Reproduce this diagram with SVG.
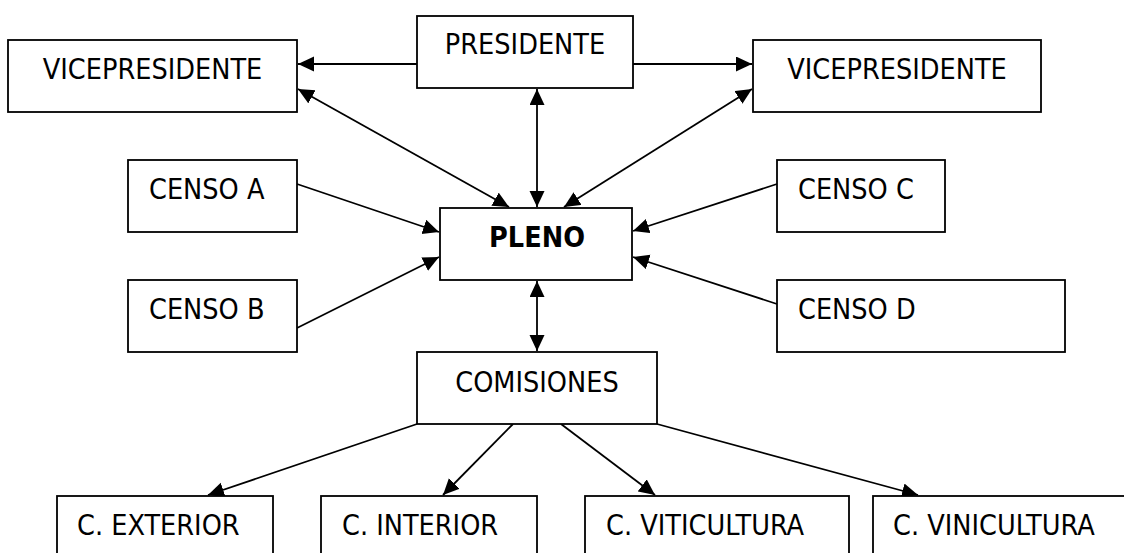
<svg xmlns="http://www.w3.org/2000/svg" width="1124" height="553" viewBox="0 0 1124 553">
<style>
.box{fill:#fff;stroke:#000;stroke-width:1.8}
.t{font-family:"DejaVu Sans Condensed","DejaVu Sans",sans-serif;font-stretch:condensed;font-size:28.5px;fill:#000}
.c{text-anchor:middle}
.b{font-weight:bold}
.ln{stroke:#000;stroke-width:1.8;fill:none}
</style>
<defs>
<marker id="ah" markerUnits="userSpaceOnUse" markerWidth="18" markerHeight="16" refX="16" refY="7.5" orient="auto-start-reverse">
<path d="M0,0 L16,7.5 L0,15 z" fill="#000"/>
</marker>
</defs>
<rect width="1124" height="553" fill="#fff"/>
<g id="connectors">
<line class="ln" x1="417" y1="64" x2="298" y2="64" marker-end="url(#ah)"/>
<line class="ln" x1="633" y1="64" x2="752" y2="64" marker-end="url(#ah)"/>
<line class="ln" x1="537" y1="89" x2="537" y2="207" marker-start="url(#ah)" marker-end="url(#ah)"/>
<line class="ln" x1="298" y1="89" x2="509" y2="207" marker-start="url(#ah)" marker-end="url(#ah)"/>
<line class="ln" x1="752" y1="89" x2="564" y2="207" marker-start="url(#ah)" marker-end="url(#ah)"/>
<line class="ln" x1="297" y1="184" x2="439" y2="232" marker-end="url(#ah)"/>
<line class="ln" x1="297" y1="328" x2="439" y2="257" marker-end="url(#ah)"/>
<line class="ln" x1="777" y1="184" x2="633" y2="231" marker-end="url(#ah)"/>
<line class="ln" x1="777" y1="304" x2="633" y2="257" marker-end="url(#ah)"/>
<line class="ln" x1="537" y1="281" x2="537" y2="351" marker-start="url(#ah)" marker-end="url(#ah)"/>
<line class="ln" x1="417" y1="424" x2="208" y2="495" marker-end="url(#ah)"/>
<line class="ln" x1="513" y1="424" x2="443" y2="495" marker-end="url(#ah)"/>
<line class="ln" x1="561" y1="424" x2="655" y2="495" marker-end="url(#ah)"/>
<line class="ln" x1="657" y1="424" x2="918" y2="495" marker-end="url(#ah)"/>
</g>
<g id="presidente"><rect class="box" x="417" y="16" width="216" height="72"/><text class="t c" x="525" y="54">PRESIDENTE</text></g>
<g id="vicepresidente-izq"><rect class="box" x="8" y="40" width="289" height="72"/><text class="t c" x="152.5" y="79">VICEPRESIDENTE</text></g>
<g id="vicepresidente-der"><rect class="box" x="753" y="40" width="288" height="72"/><text class="t c" x="897" y="79">VICEPRESIDENTE</text></g>
<g id="censo-a"><rect class="box" x="128" y="160" width="169" height="72"/><text class="t" x="149" y="199">CENSO A</text></g>
<g id="censo-b"><rect class="box" x="128" y="280" width="169" height="72"/><text class="t" x="149" y="319">CENSO B</text></g>
<g id="censo-c"><rect class="box" x="777" y="160" width="168" height="72"/><text class="t" x="798" y="199">CENSO C</text></g>
<g id="censo-d"><rect class="box" x="777" y="280" width="288" height="72"/><text class="t" x="798" y="319">CENSO D</text></g>
<g id="pleno"><rect class="box" x="440" y="208" width="192" height="72"/><text class="t c b" x="537" y="247">PLENO</text></g>
<g id="comisiones"><rect class="box" x="417" y="352" width="240" height="72"/><text class="t c" x="537" y="392">COMISIONES</text></g>
<g id="c-exterior"><rect class="box" x="57" y="496" width="216" height="72"/><text class="t" x="77" y="535">C. EXTERIOR</text></g>
<g id="c-interior"><rect class="box" x="321" y="496" width="216" height="72"/><text class="t" x="342" y="535">C. INTERIOR</text></g>
<g id="c-viticultura"><rect class="box" x="585" y="496" width="264" height="72"/><text class="t" x="606" y="535">C. VITICULTURA</text></g>
<g id="c-vinicultura"><rect class="box" x="873" y="496" width="264" height="72"/><text class="t" x="893" y="535">C. VINICULTURA</text></g>
</svg>
